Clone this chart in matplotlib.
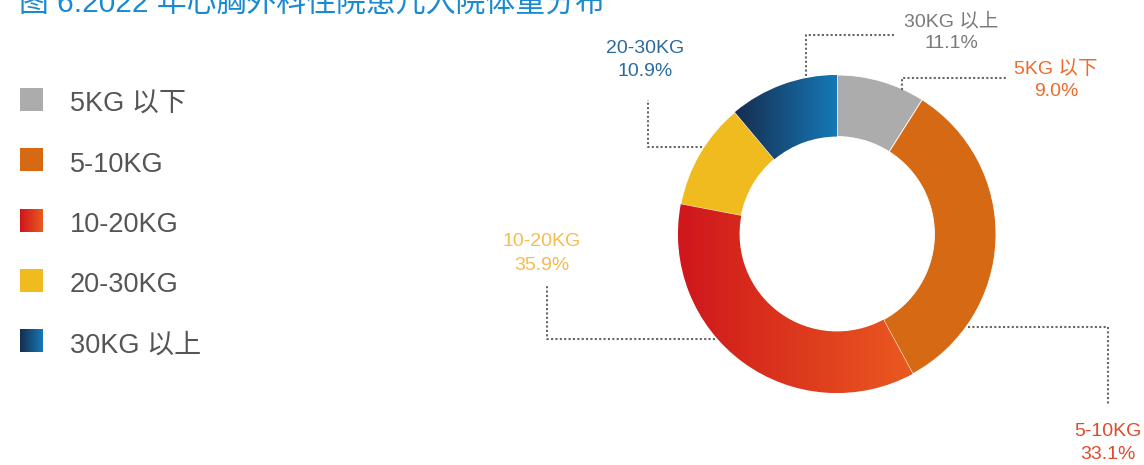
import matplotlib.pyplot as plt
import numpy as np
from matplotlib.colors import LinearSegmentedColormap
from matplotlib.patches import Rectangle

plt.rcParams['font.family'] = ['Liberation Sans', 'Noto Sans CJK SC', 'DejaVu Sans']

# data
categories = ['5KG 以下', '5-10KG', '10-20KG', '20-30KG', '30KG 以上']
shares = [9.0, 33.1, 35.9, 10.9, 11.1]
# solid colour or (left, right) gradient
slice_colors = ['#abacab', '#d66913', ('#cf151c', '#ea5a1f'), '#f0bb1e', ('#152d50', '#1679b7')]
# the annotation texts (colours as in the source picture)
label_colors = ['#ec6a2c', '#e04a2c', '#f6bc4c', '#2b6b9f', '#7a7a7a']
title = '图 6.2022 年心胸外科住院患儿入院体重分布'

W, H = 1144, 465


def fy(y):
    # pixel row from top -> data y
    return H - y


fig = plt.figure(figsize=(W / 100, H / 100), dpi=100)
ax = fig.add_axes([0, 0, 1, 1])

cx, cy, r = 837, fy(234), 159
wedges, _ = ax.pie(shares, startangle=90, counterclock=False, radius=r,
                   center=(cx, cy), frame=True,
                   colors=[c if isinstance(c, str) else c[0] for c in slice_colors],
                   wedgeprops=dict(width=r * 0.387, edgecolor='white', linewidth=0.6))

for w, c in zip(wedges, slice_colors):
    if isinstance(c, str):
        continue
    v = w.get_path().vertices
    cmap = LinearSegmentedColormap.from_list('g', list(c))
    im = ax.imshow(np.linspace(0, 1, 256).reshape(1, -1), cmap=cmap, aspect='auto',
                   extent=[v[:, 0].min(), v[:, 0].max(), v[:, 1].min(), v[:, 1].max()],
                   zorder=w.get_zorder() + 0.1)
    im.set_clip_path(w)

# legend
for i, (name, c) in enumerate(zip(categories, slice_colors)):
    top = 88 + i * 60.3
    if isinstance(c, str):
        ax.add_patch(Rectangle((20, fy(top + 23)), 23, 23, color=c, lw=0))
    else:
        cmap = LinearSegmentedColormap.from_list('g', list(c))
        ax.imshow(np.linspace(0, 1, 64).reshape(1, -1), cmap=cmap, aspect='auto',
                  extent=[20, 43, fy(top + 23), fy(top)])
    ax.text(70, fy(top + 16.5), name, fontsize=19.5, color='#555555', va='center', ha='left')

# leader lines (pixel positions) and label centres
leaders = [
    ([902, 902, 1008], [90, 78, 78]),
    ([968, 1108, 1108], [327, 327, 405]),
    ([715, 547, 547], [339, 339, 285]),
    ([702, 648, 648], [147, 147, 100]),
    ([806, 806, 895], [76, 35, 35]),
]
label_pos = [(1056, 69), (1108, 431), (542, 242), (645, 49), (951, 21)]

for (xs, ys), (lx, ly), name, val, col in zip(leaders, label_pos, categories, shares, label_colors):
    ax.plot(xs, [fy(y) for y in ys], color='#666666', lw=1.5, linestyle=(0, (1, 1.1)))
    ax.text(lx, fy(ly), name, fontsize=14, color=col, ha='center', va='center')
    ax.text(lx, fy(ly + 23), f'{val:.1f}%', fontsize=14, color=col, ha='center', va='center')

ax.text(19, fy(12), title, fontsize=21.5, color='#1a8ad0', ha='left', va='baseline')

ax.set_xlim(0, W)
ax.set_ylim(0, H)
ax.axis('off')

fig.savefig('out.png', dpi=100)
